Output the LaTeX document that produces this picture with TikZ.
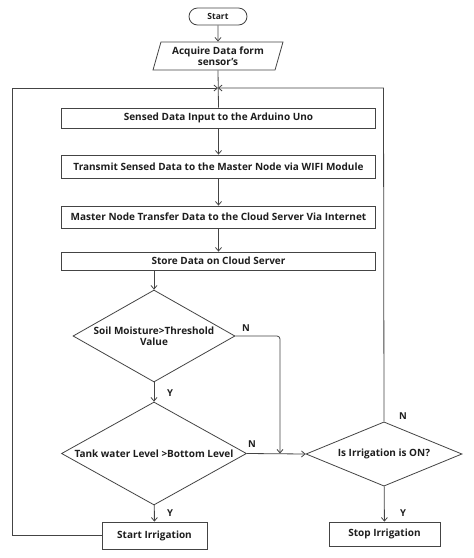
\documentclass[tikz,border=0pt]{standalone}
\usepackage{fontspec}
\setmainfont{Open Sans}
\usetikzlibrary{shapes.geometric,arrows.meta}
\definecolor{linec}{HTML}{444444}
\definecolor{txtc}{HTML}{1E1E1E}
\begin{document}
\begin{tikzpicture}[x=1pt,y=-1pt,
  line/.style={draw=linec, line width=0.8pt},
  arr/.style={line, -{Straight Barb[length=3.5pt,width=6pt]}},
  base/.style={draw=linec, line width=0.8pt, inner sep=0pt, text=txtc, font=\fontsize{10}{11}\selectfont\bfseries, align=center},
  procbox/.style={base, rectangle, minimum width=#1},
  term/.style={base, rectangle, rounded corners=8.5pt, minimum width=58pt, minimum height=17pt, font=\fontsize{8.5}{10}\selectfont\bfseries},
  io/.style={base, trapezium, trapezium left angle=67, trapezium right angle=113, trapezium stretches body, minimum width=130pt, minimum height=28pt},
  decision/.style={base, diamond, aspect=1.7},
  yn/.style={text=txtc, font=\fontsize{9.5}{10}\selectfont\bfseries, inner sep=0pt}
]
\useasboundingbox (0,0) rectangle (474,558);
\fill[white] (0,0) rectangle (474,558);

\node[term] (start) at (218,16.5) {Start};
\node[io] (acq) at (218,56) {Acquire Data form\\sensor's};
\coordinate (junc) at (218,88);

\node[procbox=314pt, minimum height=20pt] (b1) at (218.5,118) {Sensed Data Input to the Arduino Uno};
\node[procbox=314pt, minimum height=23pt] (b2) at (218.5,166.5) {Transmit Sensed Data to the Master Node via WIFI Module};
\node[procbox=314pt, minimum height=22pt] (b3) at (218.5,217) {Master Node Transfer Data to the Cloud Server Via Internet};
\node[procbox=314pt, minimum height=18pt] (b4) at (218.5,261) {Store Data on Cloud Server};

\node[decision, minimum width=162pt, minimum height=92pt] (d1) at (154,336) {Soil Moisture>Threshold\\Value};
\node[decision, minimum width=185pt, minimum height=103pt] (d2) at (154,453.5) {Tank water Level >Bottom Level};
\node[decision, minimum width=156pt, minimum height=58pt] (d3) at (384,454) {Is Irrigation is ON?};

\node[procbox=105pt, minimum height=27pt] (si) at (154.5,535.5) {Start Irrigation};
\node[procbox=111pt, minimum height=24pt] (sp) at (384.5,534) {Stop Irrigation};

\coordinate (nj) at (280,453.5);
\coordinate (lc1) at (12,535.5);
\coordinate (lc2) at (12,88);
\coordinate (rc) at (383.5,88);

% connectors
\draw[arr] (start) -- (acq);
\draw[line] (acq.south) -- (b1.north);
\draw[arr] (b1) -- (b2);
\draw[arr] (b2) -- (b3);
\draw[arr] (b3) -- (b4);
\draw[arr] (b4.south -| d1.north) -- (d1.north);
\draw[arr] (d1) -- (d2);
\draw[arr] (d2) -- (si);
\draw[arr] (d3) -- (sp);
\draw[arr] (d2.east) -- (d3.west);
\draw[arr, rounded corners=3pt] (d1.east) -| (nj);
\draw[arr] (si.west) -- (lc1) -- (lc2) -- (junc);
\draw[arr] (d3.north) -- (rc) -- (junc);

% labels
\node[yn] (n1) at (246,328) {N};
\node[yn] (y1) at (170,393) {Y};
\node[yn] (n2) at (252,444) {N};
\node[yn] (y2) at (170,513) {Y};
\node[yn] (n3) at (403,416) {N};
\node[yn] (y3) at (403,513) {Y};
\end{tikzpicture}
\end{document}
